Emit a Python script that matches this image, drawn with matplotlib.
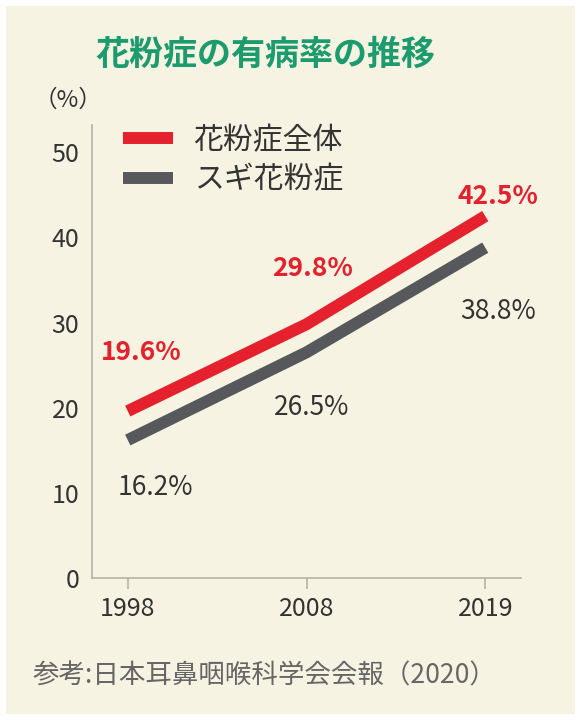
import matplotlib.pyplot as plt
from matplotlib.patches import Rectangle

plt.rcParams['font.family'] = ['Noto Sans CJK JP', 'DejaVu Sans']

# data
years = ['1998', '2008', '2019']
total = [19.6, 29.8, 42.5]        # 花粉症全体
sugi = [16.2, 26.5, 38.8]         # スギ花粉症
yticks = [0, 10, 20, 30, 40, 50]

red = '#e4212c'
gray = '#57585b'
text_col = '#333333'
bg = '#f6f3e2'

fig = plt.figure(figsize=(5.81, 7.22), dpi=100, facecolor='white')
# cream panel behind everything
fig.patches.append(Rectangle((6 / 581, 8 / 722), 569 / 581, 708 / 722,
                             transform=fig.transFigure, facecolor=bg,
                             edgecolor='none', zorder=-10))

ax = fig.add_axes([92 / 581, 1 - 578 / 722, 429 / 581, 453 / 722])
ax.set_facecolor('none')
ax.set_zorder(2)

x = range(len(years))
ax.plot(x, total, color=red, lw=8.6, solid_capstyle='butt', label='花粉症全体')
ax.plot(x, sugi, color=gray, lw=8.6, solid_capstyle='butt', label='スギ花粉症')

ax.set_xlim(-0.2, 2.2)
ax.set_ylim(0, 53.2)
ax.set_xticks(list(x))
ax.set_xticklabels(years)
ax.set_yticks(yticks)
ax.tick_params(axis='y', length=0, pad=9, labelsize=18, labelcolor=text_col)
ax.tick_params(axis='x', length=8, width=1.2, color='#b5b3aa', pad=5,
               labelsize=18, labelcolor=text_col)

for s in ['top', 'right']:
    ax.spines[s].set_visible(False)
for s in ['left', 'bottom']:
    ax.spines[s].set_color('#b5b3aa')
    ax.spines[s].set_linewidth(1.2)

# value labels (offsets in points from each data point)
red_off = [(10, 42), (4, 40), (9, 14)]
gray_off = [(20, -34), (4, -40), (9, -46)]
for i in x:
    ax.annotate(f'{total[i]}%', (i, total[i]), xytext=red_off[i],
                textcoords='offset points', ha='center', va='center',
                color=red, fontsize=19, fontweight='bold')
    ax.annotate(f'{sugi[i]}%', (i, sugi[i]), xytext=gray_off[i],
                textcoords='offset points', ha='center', va='center',
                color=text_col, fontsize=19)

leg = ax.legend(loc='upper left', bbox_to_anchor=(96 / 581, 1 - 98 / 722),
                bbox_transform=fig.transFigure, frameon=False, fontsize=21.5,
                handlelength=1.67, handletextpad=0.7, labelspacing=0.28)
for t in leg.get_texts():
    t.set_color(text_col)

fig.text(68 / 581, 1 - 100 / 722, '（%）', ha='center', va='center',
         fontsize=17, color=text_col)
fig.text(265 / 581, 1 - 54 / 722, '花粉症の有病率の推移', ha='center', va='center',
         fontsize=24.5, fontweight='bold', color='#1b9b6e')
fig.text(33 / 581, 1 - 676 / 722, '参考:日本耳鼻咽喉科学会会報（2020）',
         ha='left', va='center', fontsize=19.1, color='#666666')

fig.savefig('out.png', dpi=100, facecolor=fig.get_facecolor())
